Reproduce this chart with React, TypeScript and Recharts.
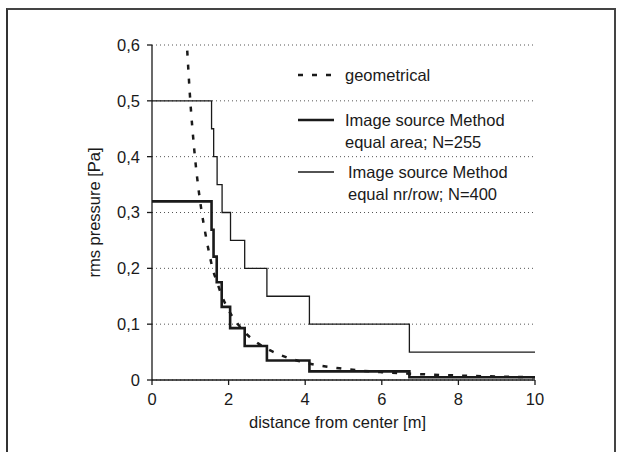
import React from 'react';
import { LineChart, Line, XAxis, YAxis, CartesianGrid, Label } from 'recharts';

// distance [m] / rms pressure [Pa]
const geoX = [0.92, 1.0, 1.1, 1.2, 1.3, 1.4, 1.5, 1.6, 1.7, 1.8, 2.0, 2.2, 2.4, 2.7, 3.0, 3.5, 4.0, 5.0, 6.0, 7.0, 8.0, 9.0, 10.0];
const geoY = [0.59, 0.5, 0.415, 0.35, 0.3, 0.26, 0.225, 0.195, 0.175, 0.155, 0.125, 0.104, 0.087, 0.069, 0.056, 0.041, 0.031, 0.02, 0.014, 0.0105, 0.008, 0.0063, 0.005];

const areaX = [0, 1.555, 1.607, 1.69, 1.82, 2.04, 2.42, 3.0, 4.11, 6.72, 10];
const areaY = [0.32, 0.269, 0.221, 0.175, 0.131, 0.093, 0.061, 0.035, 0.0155, 0.005, 0.005];

const rowX = [0, 1.555, 1.61, 1.7, 1.83, 2.05, 2.42, 3.0, 4.11, 6.72, 10];
const rowY = [0.5, 0.45, 0.4, 0.35, 0.3, 0.25, 0.2, 0.15, 0.1, 0.05, 0.05];

const xTicks = [0, 2, 4, 6, 8, 10];
const yTicks = [0, 0.1, 0.2, 0.3, 0.4, 0.5, 0.6];

const toPoints = (xs: number[], ys: number[]) => xs.map((x, i) => ({ x, y: ys[i] }));

const geoData = toPoints(geoX, geoY);
const areaData = toPoints(areaX, areaY);
const rowData = toPoints(rowX, rowY);

const FONT = '"Liberation Sans", Arial, sans-serif';
const INK = '#1a1a1a';

const legendItems = [
  { lines: ['geometrical'], dash: '5 9', width: 2.5, top: 4, textLeft: 49 },
  { lines: ['Image source Method', 'equal area; N=255'], dash: undefined, width: 2.6, top: 49, textLeft: 49 },
  { lines: ['Image source Method', 'equal nr/row; N=400'], dash: undefined, width: 1.3, top: 101, textLeft: 52 },
];

function ChartLegend() {
  return (
    <div style={{ position: 'absolute', left: 296, top: 60, width: 260, height: 150, fontFamily: FONT, fontSize: 16.5, color: INK }}>
      {legendItems.map((item, i) => (
        <div key={i} style={{ position: 'absolute', left: 0, top: item.top }}>
          <svg width={40} height={22} style={{ position: 'absolute', left: 0, top: 0 }}>
            <line x1={2} y1={11} x2={38} y2={11} stroke={INK} strokeWidth={item.width} strokeDasharray={item.dash} />
          </svg>
          <div style={{ position: 'absolute', left: item.textLeft, top: 0, whiteSpace: 'nowrap', lineHeight: '22px' }}>
            {item.lines.map((l, j) => (
              <div key={j}>{l}</div>
            ))}
          </div>
        </div>
      ))}
    </div>
  );
}

const fmt = (v: number) => (v === 0 ? '0' : v.toFixed(1).replace('.', ','));

export default function App() {
  return (
    <div style={{ position: 'absolute', left: 0, top: 0, width: 620, height: 452, background: '#fff', overflow: 'hidden' }}>
      <div
        style={{
          position: 'absolute',
          left: 6,
          top: 8,
          width: 606,
          height: 460,
          borderTop: '2px solid #444',
          borderLeft: '2px solid #333',
          borderRight: '2px solid #444',
        }}
      />
      <LineChart
        width={620}
        height={452}
        margin={{ top: 45, right: 85, bottom: 42, left: 92 }}
        style={{ position: 'absolute', left: 0, top: 0, fontFamily: FONT }}
      >
        <CartesianGrid horizontal vertical={false} stroke="#555" strokeDasharray="1 3" />
        <XAxis
          dataKey="x"
          type="number"
          domain={[0, 10]}
          ticks={xTicks}
          height={30}
          tickSize={5}
          tickMargin={8}
          stroke={INK}
          strokeWidth={1.3}
          tick={{ fontSize: 16.5, fill: INK, fontFamily: FONT }}
          allowDataOverflow
        >
          <Label
            value="distance from center [m]"
            position="bottom"
            offset={6}
            dx={-6}
            style={{ fontSize: 16.5, fill: INK, fontFamily: FONT }}
          />
        </XAxis>
        <YAxis
          type="number"
          domain={[0, 0.6]}
          ticks={yTicks}
          width={60}
          tickSize={5}
          tickMargin={7}
          tickFormatter={fmt}
          stroke={INK}
          strokeWidth={1.3}
          tick={{ fontSize: 16.5, fill: INK, fontFamily: FONT }}
          allowDataOverflow
        >
          <Label
            value="rms pressure [Pa]"
            angle={-90}
            position="insideLeft"
            offset={2}
            style={{ textAnchor: 'middle', fontSize: 16.5, fill: INK, fontFamily: FONT }}
          />
        </YAxis>
        <Line
          data={rowData}
          dataKey="y"
          name="Image source Method equal nr/row; N=400"
          type="stepAfter"
          stroke={INK}
          strokeWidth={1.3}
          dot={false}
          isAnimationActive={false}
        />
        <Line
          data={areaData}
          dataKey="y"
          name="Image source Method equal area; N=255"
          type="stepAfter"
          stroke={INK}
          strokeWidth={2.6}
          dot={false}
          isAnimationActive={false}
        />
        <Line
          data={geoData}
          dataKey="y"
          name="geometrical"
          type="monotone"
          stroke={INK}
          strokeWidth={2.5}
          strokeDasharray="5 9"
          dot={false}
          isAnimationActive={false}
        />
      </LineChart>
      <ChartLegend />
    </div>
  );
}
